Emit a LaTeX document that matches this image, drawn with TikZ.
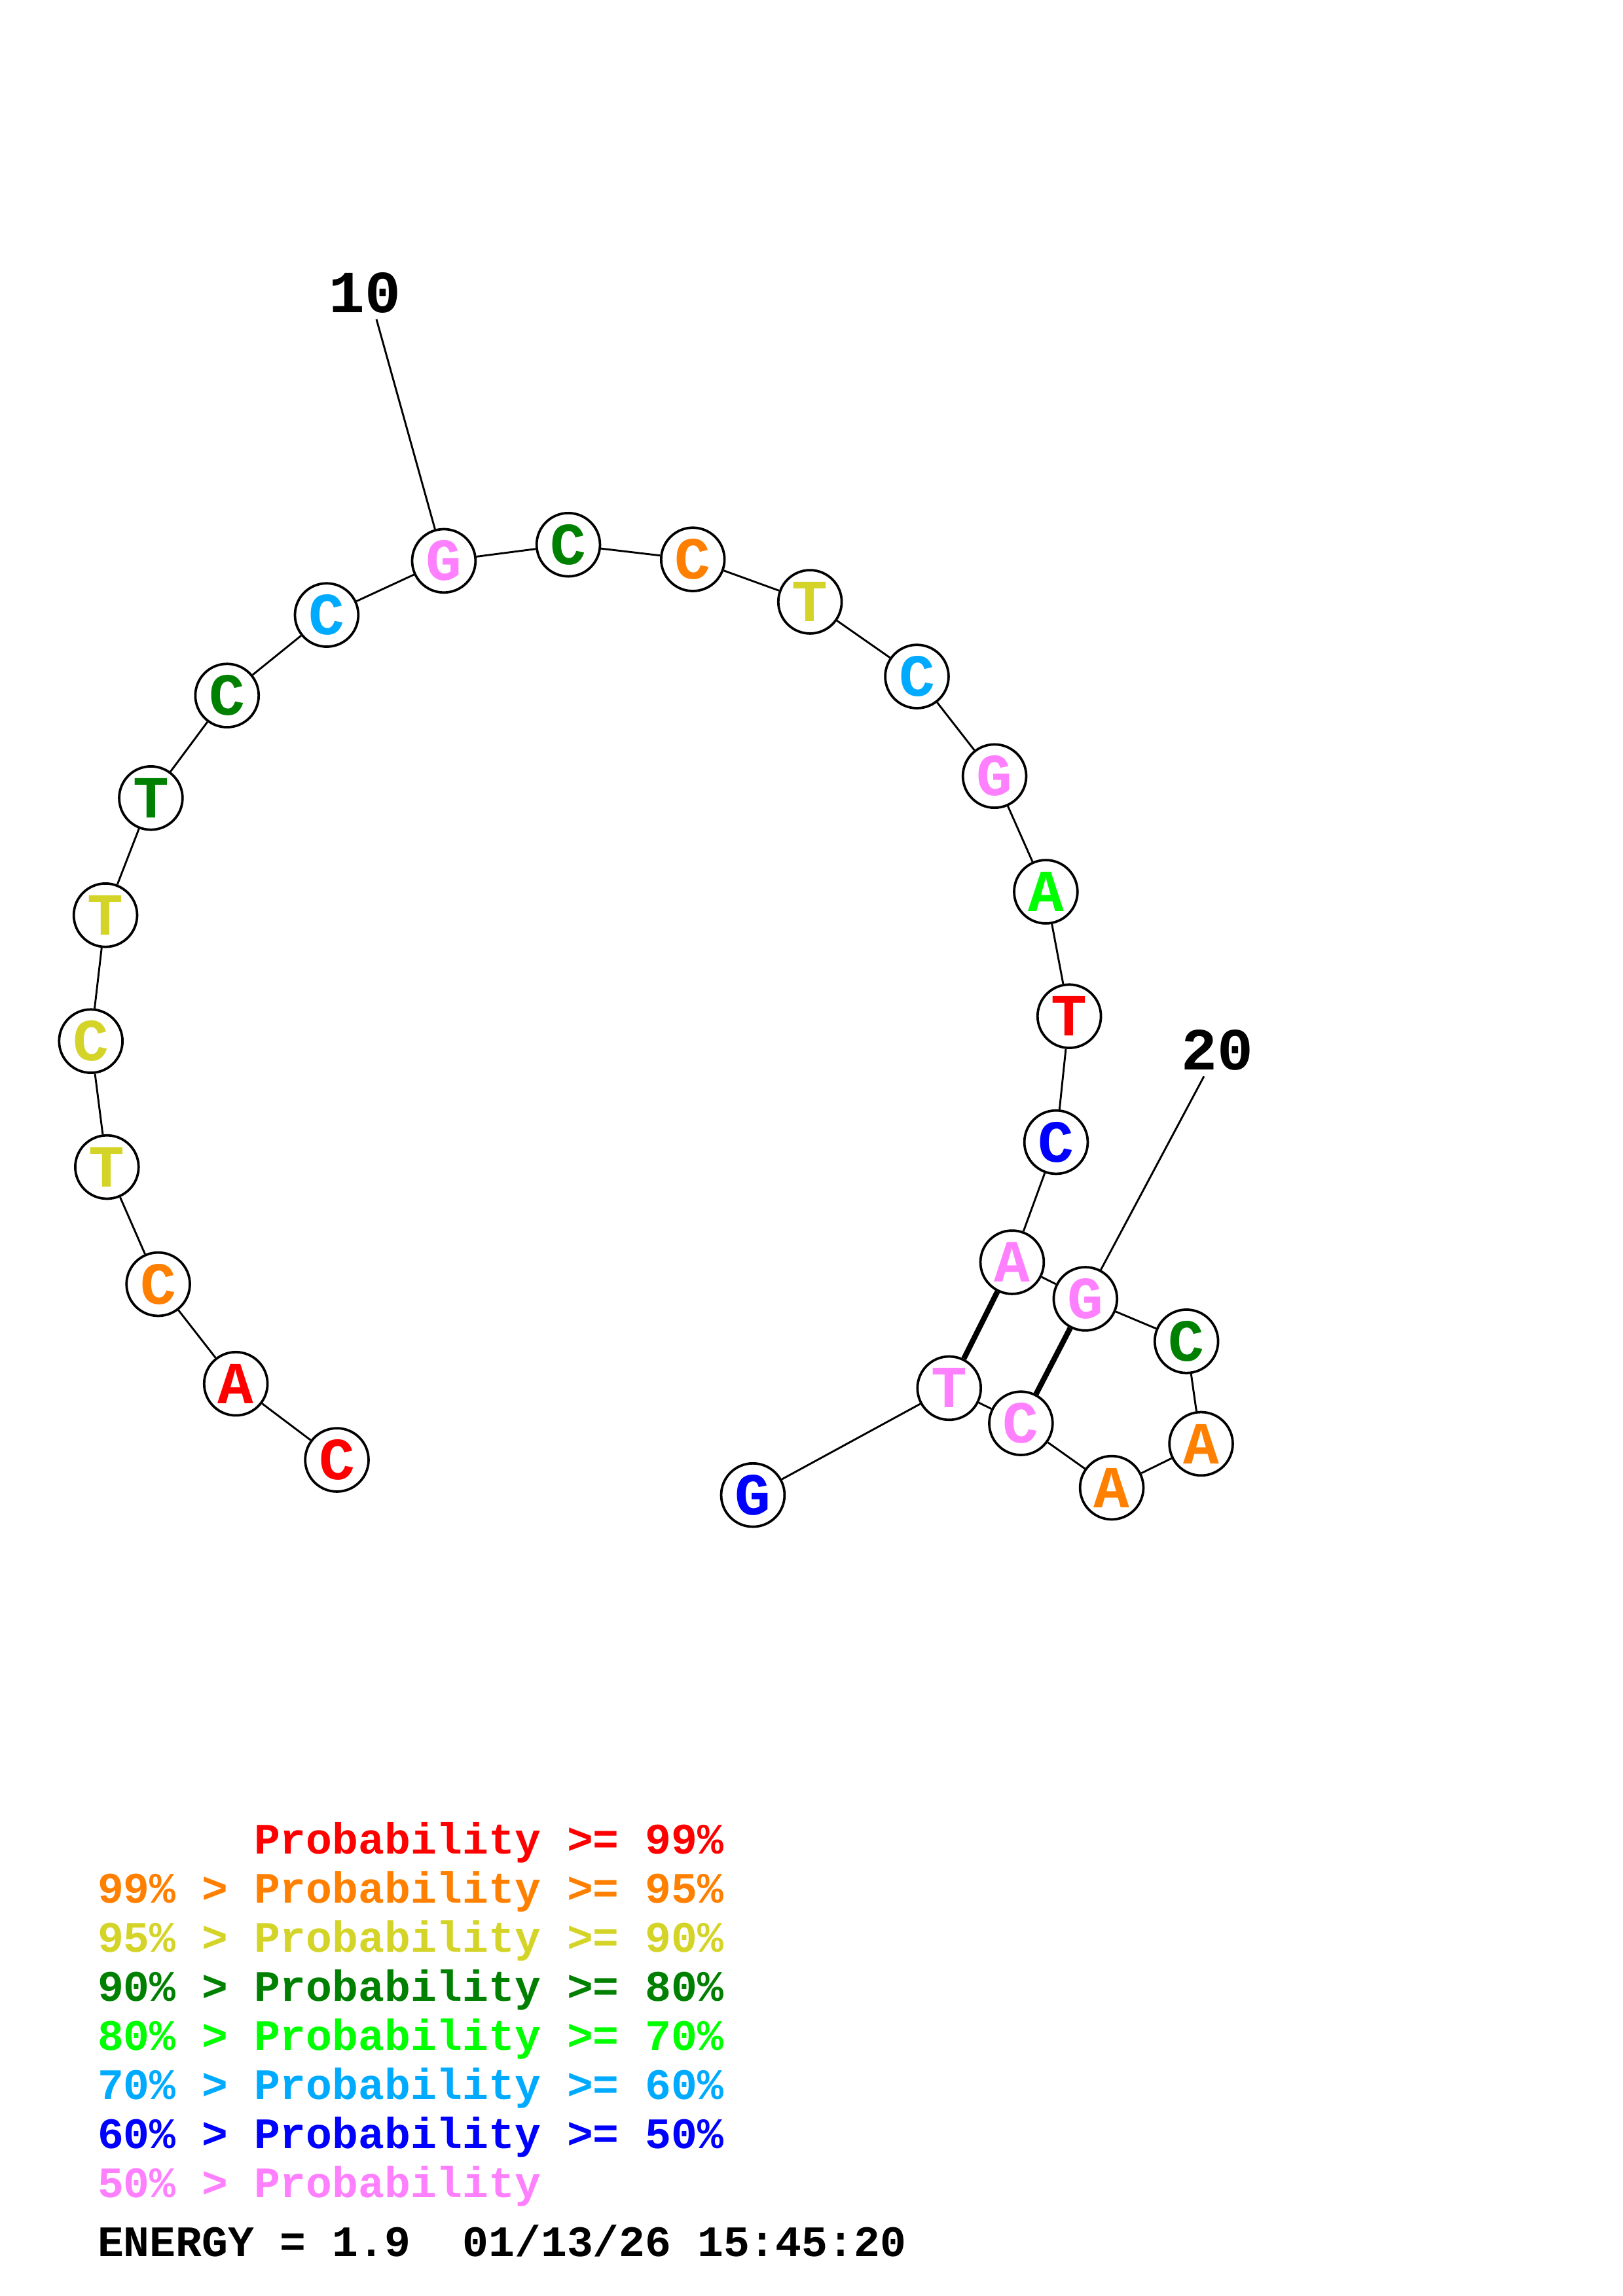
\documentclass[tikz,border=0pt]{standalone}
\usepackage{fontspec}
\setmainfont{Liberation Mono}
\definecolor{p99}{RGB}{255,0,0}
\definecolor{p95}{RGB}{255,128,0}
\definecolor{p90}{RGB}{212,212,40}
\definecolor{p80}{RGB}{0,128,0}
\definecolor{p70}{RGB}{0,255,0}
\definecolor{p60}{RGB}{0,170,255}
\definecolor{p50}{RGB}{0,0,255}
\definecolor{plow}{RGB}{255,128,255}

\begin{document}
\begin{tikzpicture}[x=0.018953cm,y=-0.018953cm,line width=0.7pt,
  base node/.style={circle,fill=white,draw,line width=0.9pt,minimum size=0.82cm,inner sep=0pt,
    font=\fontsize{22}{22}\selectfont\bfseries},
  num node/.style={inner sep=0pt,font=\fontsize{22}{22}\selectfont\bfseries},
  key node/.style={anchor=base west,inner sep=0pt,font=\fontsize{16}{16}\selectfont\bfseries}]

  \useasboundingbox (0,0) rectangle (1108,1568);

  \node[base node,text=p99]  (b1)  at (230,997) {C};
  \node[base node,text=p99]  (b2)  at (161,945) {A};
  \node[base node,text=p95]  (b3)  at (108,877) {C};
  \node[base node,text=p90]  (b4)  at (73,797)  {T};
  \node[base node,text=p90]  (b5)  at (62,711)  {C};
  \node[base node,text=p90]  (b6)  at (72,625)  {T};
  \node[base node,text=p80]  (b7)  at (103,545) {T};
  \node[base node,text=p80]  (b8)  at (155,475) {C};
  \node[base node,text=p60]  (b9)  at (223,420) {C};
  \node[base node,text=plow] (b10) at (303,383) {G};
  \node[base node,text=p80]  (b11) at (388,372) {C};
  \node[base node,text=p95]  (b12) at (473,382) {C};
  \node[base node,text=p90]  (b13) at (553,411) {T};
  \node[base node,text=p60]  (b14) at (626,462) {C};
  \node[base node,text=plow] (b15) at (679,530) {G};
  \node[base node,text=p70]  (b16) at (714,609) {A};
  \node[base node,text=p99]  (b17) at (730,694) {T};
  \node[base node,text=p50]  (b18) at (721,780) {C};
  \node[base node,text=plow] (b19) at (691,862) {A};
  \node[base node,text=plow] (b20) at (741,887) {G};
  \node[base node,text=p80]  (b21) at (810,916) {C};
  \node[base node,text=p95]  (b22) at (820,986) {A};
  \node[base node,text=p95]  (b23) at (759,1016) {A};
  \node[base node,text=plow] (b24) at (697,972) {C};
  \node[base node,text=plow] (b25) at (648,948) {T};
  \node[base node,text=p50]  (b26) at (514,1021) {G};

  \node[num node] (l10) at (249,200) {10};
  \node[num node] (l20) at (831,717) {20};
  \coordinate (t10) at (257,218);
  \coordinate (t20) at (822,735);

  \path
    (b1) edge (b2)
    (b2) edge (b3)
    (b3) edge (b4)
    (b4) edge (b5)
    (b5) edge (b6)
    (b6) edge (b7)
    (b7) edge (b8)
    (b8) edge (b9)
    (b9) edge (b10)
    (b10) edge (b11)
    (b11) edge (b12)
    (b12) edge (b13)
    (b13) edge (b14)
    (b14) edge (b15)
    (b15) edge (b16)
    (b16) edge (b17)
    (b17) edge (b18)
    (b18) edge (b19)
    (b19) edge (b20)
    (b20) edge (b21)
    (b21) edge (b22)
    (b22) edge (b23)
    (b23) edge (b24)
    (b24) edge (b25)
    (b25) edge (b26)
    (t10) edge (b10)
    (t20) edge (b20);

  \path[line width=2pt]
    (b19) edge (b25)
    (b20) edge (b24);

  \node[key node,text=p99]  (k1) at (66,1266)   {\phantom{99\% > }Probability >= 99\%};
  \node[key node,text=p95]  (k2) at (66,1299.5) {99\% > Probability >= 95\%};
  \node[key node,text=p90]  (k3) at (66,1333)   {95\% > Probability >= 90\%};
  \node[key node,text=p80]  (k4) at (66,1366.5) {90\% > Probability >= 80\%};
  \node[key node,text=p70]  (k5) at (66,1400)   {80\% > Probability >= 70\%};
  \node[key node,text=p60]  (k6) at (66,1433.5) {70\% > Probability >= 60\%};
  \node[key node,text=p50]  (k7) at (66,1467)   {60\% > Probability >= 50\%};
  \node[key node,text=plow] (k8) at (66,1500.5) {50\% > Probability};
  \node[key node] (energy) at (66,1541) {ENERGY = 1.9\ \ 01/13/26 15:45:20};

\end{tikzpicture}
\end{document}
